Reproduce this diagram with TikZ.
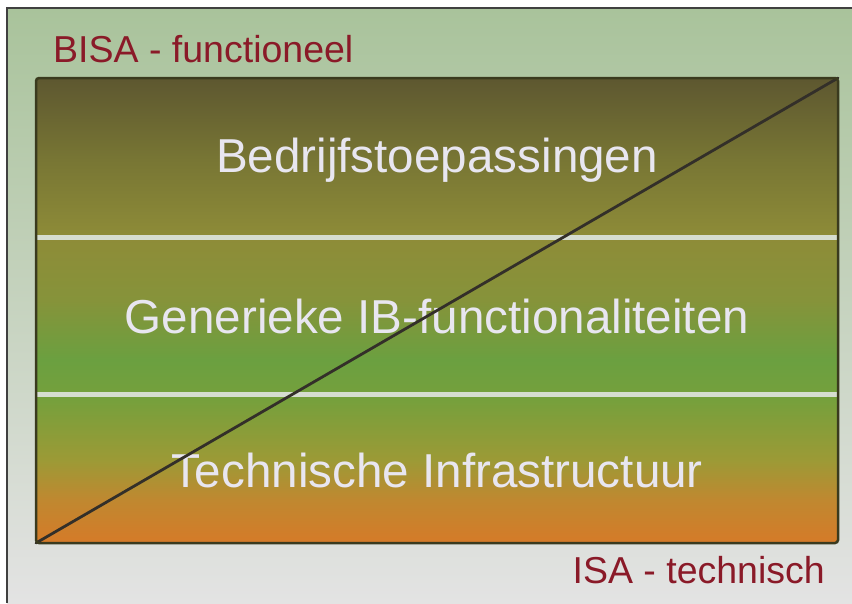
\documentclass[tikz,border=0pt]{standalone}
\usepackage{fontspec}
\setmainfont{Liberation Sans}
\definecolor{pageTop}{HTML}{A9C39B}
\definecolor{pageBot}{HTML}{E3E3E3}
\definecolor{labelRed}{HTML}{8A1A28}
\definecolor{layerText}{HTML}{E8E6F0}
\definecolor{boxEdge}{HTML}{3A3A1E}
\definecolor{sepLine}{HTML}{D6DDD0}
\definecolor{gA}{HTML}{5D5730}
\definecolor{gB}{HTML}{787634}
\definecolor{gC}{HTML}{8E8C38}
\definecolor{gD}{HTML}{86933A}
\definecolor{gE}{HTML}{6BA040}
\definecolor{gF}{HTML}{76A03C}
\definecolor{gG}{HTML}{9C9A36}
\definecolor{gH}{HTML}{C08830}
\definecolor{gI}{HTML}{D67A28}
\tikzset{
  layertext/.style={text=layerText, font=\fontsize{47.6}{56}\selectfont, inner sep=0pt, anchor=base},
  sidelabel/.style={text=labelRed, font=\fontsize{37.5}{45}\selectfont, inner sep=0pt},
  separator/.style={draw=sepLine, line width=5pt},
  diag/.style={draw=black!85!olive, line width=2.8pt, line cap=round}
}
\begin{document}
\begin{tikzpicture}[x=1pt,y=-1pt]
% page and frame
\fill[white] (0,0) rectangle (852,603);
\useasboundingbox (0,0) rectangle (852,603);
\shade[top color=pageTop, bottom color=pageBot] (7,8) rectangle (852,603);
\draw[black!75, line width=1.5pt] (7,603) -- (7,8) -- (852,8);

% layered box corners
\coordinate (bl) at (36,543);
\coordinate (tr) at (838,78);

% piecewise vertical colour ramp of the box
\begin{scope}
\clip[rounded corners=3pt] (bl) rectangle (tr);
\shade[top color=gA, bottom color=gB] (36,77) rectangle (838,160);
\shade[top color=gB, bottom color=gC] (36,160) rectangle (838,238);
\shade[top color=gC, bottom color=gD] (36,238) rectangle (838,300);
\shade[top color=gD, bottom color=gE] (36,300) rectangle (838,360);
\shade[top color=gE, bottom color=gF] (36,360) rectangle (838,400);
\shade[top color=gF, bottom color=gG] (36,400) rectangle (838,460);
\shade[top color=gG, bottom color=gH] (36,460) rectangle (838,500);
\shade[top color=gH, bottom color=gI] (36,500) rectangle (838,544);
\end{scope}

% layer separators
\coordinate (s1l) at (37,237);
\coordinate (s1r) at (837,237);
\coordinate (s2l) at (37,394);
\coordinate (s2r) at (837,394);
\draw[separator] (s1l) -- (s1r);
\draw[separator] (s2l) -- (s2r);

% layer names
\node[layertext] (apps) at (437,172) {Bedrijfstoepassingen};
\node[layertext] (generic) at (437,333) {Generieke IB-functionaliteiten};
\node[layertext] (infra) at (437,487) {Technische Infrastructuur};

% functional / technical diagonal
\draw[diag] (bl) -- (tr);

% box outline
\draw[boxEdge, line width=2.5pt, rounded corners=3pt] (bl) rectangle (tr);

% axis labels
\node[sidelabel, anchor=base west] (bisa) at (53,62) {BISA - functioneel};
\node[sidelabel, anchor=base east] (isa) at (825,583) {ISA - technisch};
\end{tikzpicture}
\end{document}
